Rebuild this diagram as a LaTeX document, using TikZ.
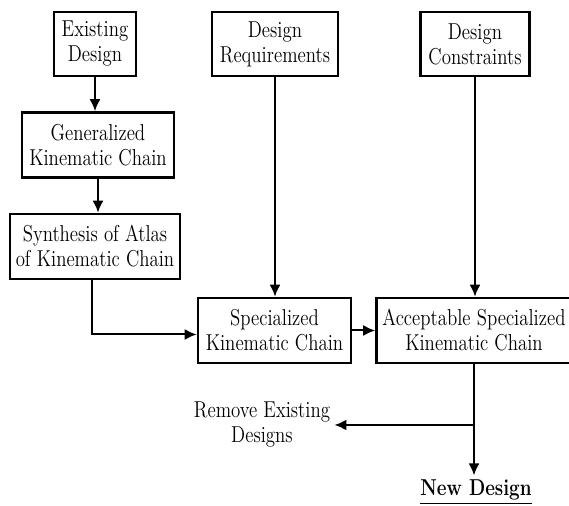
\documentclass[tikz,border=0pt]{standalone}
\usepackage{fontspec}
\setmainfont{Latin Modern Roman}[FakeStretch=0.82]
\usepackage{tikz}
\usetikzlibrary{positioning, calc, arrows.meta}

\tikzset{
	blk/.style={draw, line width=1.3pt, align=center, inner sep=1pt, font=\fontsize{11.5}{12.5}\selectfont},
	lbl/.style={align=center, inner sep=2pt, font=\fontsize{11.5}{12.5}\selectfont},
	arr/.style={-{Latex[length=6pt, width=5.5pt]}, line width=1pt},
}

\begin{document}
\begin{tikzpicture}[x=0.5pt, y=-0.5pt]
			\useasboundingbox (0,0) rectangle (569,506);
			% top row
			\node[blk, minimum width=41pt, minimum height=32pt] (exist) at (95,44) {Existing\\Design};
			\node[blk, minimum width=63pt, minimum height=32pt] (req) at (275,44) {Design\\Requirements};
			\node[blk, minimum width=54.5pt, minimum height=32pt] (cons) at (475,44) {Design\\Constraints};
			% left column
			\node[blk, minimum width=76pt, minimum height=32.5pt] (gen) at (98,145) {Generalized\\Kinematic Chain};
			\node[blk, minimum width=85pt, minimum height=32.5pt] (synth) at (95,246.5) {Synthesis of Atlas\\of Kinematic Chain};
			% middle row
			\node[blk, minimum width=76.5pt, minimum height=32.5pt] (spec) at (274.5,330.5) {Specialized\\Kinematic Chain};
			\node[blk, minimum width=97.5pt, minimum height=32.5pt] (accept) at (474,330.5) {Acceptable Specialized\\Kinematic Chain};
			% outputs
			\node[lbl] (remove) at (262,425) {Remove Existing\\Designs};
			\node[lbl, font=\fontsize{11.5}{12.5}\selectfont\bfseries] (newd) at (476,492) {\underline{New Design}};
			\coordinate (split) at (accept.south |- remove.east);

			\draw[arr] (exist.south) -- (exist.south |- gen.north);
			\draw[arr] (gen.south) -- (gen.south |- synth.north);
			\draw[arr] ([xshift=-1.5pt]synth.south) |- ([yshift=-2pt]spec.west);
			\draw[arr] (req.south) -- (req.south |- spec.north);
			\draw[arr] (cons.south) -- (cons.south |- accept.north);
			\draw[arr] (spec.east) -- (accept.west);
			\draw[arr] (accept.south) -- (accept.south |- newd.north);
			\draw[arr] (split) -- (remove.east);
		\end{tikzpicture}
\end{document}
